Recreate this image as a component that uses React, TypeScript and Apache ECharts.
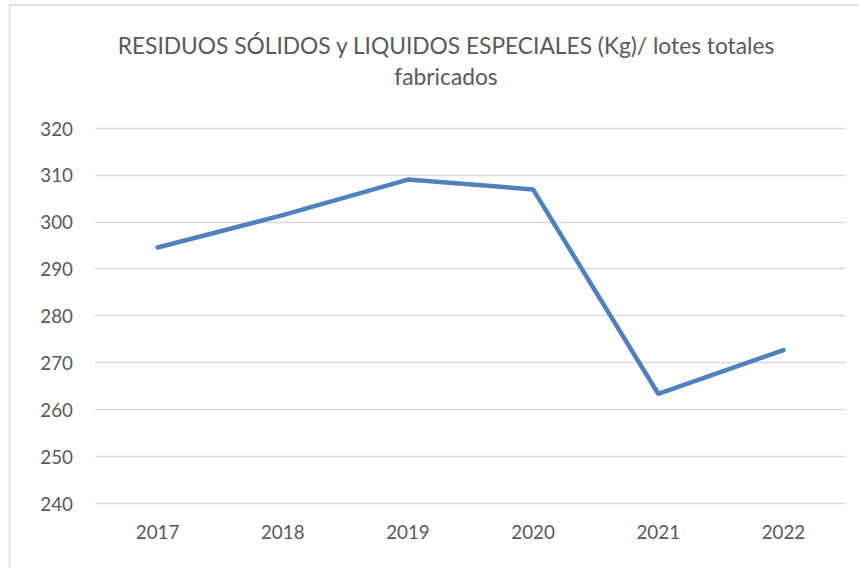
import React, { useEffect, useRef } from "react";
import * as echarts from "echarts";

const TITLE_LINES = ["RESIDUOS SÓLIDOS y LIQUIDOS ESPECIALES (Kg)/ lotes totales", "fabricados"];
const YEARS = ["2017", "2018", "2019", "2020", "2021", "2022"];
const VALUES = [294.5, 301.4, 309.0, 306.9, 263.3, 272.6];
const Y_MIN = 240;
const Y_MAX = 320;
const Y_STEP = 10;

const FONT = "Lato";

function measure(text: string, size: number): number {
  const ctx = document.createElement("canvas").getContext("2d");
  if (!ctx) return text.length * size * 0.5;
  ctx.font = `${size}px ${FONT}`;
  return ctx.measureText(text).width;
}

export default function App() {
  const ref = useRef<HTMLDivElement>(null);

  useEffect(() => {
    if (!ref.current) return;
    const chart = echarts.init(ref.current, undefined, { renderer: "svg" });

    // fit font sizes to the reference's text widths
    const titleSize = Math.min(26, (100 * 658) / measure(TITLE_LINES[0], 100));
    const tickSize = Math.min(21, (100 * 43.6) / measure("2017", 100));

    chart.setOption({
      animation: false,
      backgroundColor: "#ffffff",
      title: {
        text: TITLE_LINES.join("\n"),
        left: 441,
        top: 25,
        textAlign: "center",
        textStyle: {
          fontFamily: FONT,
          fontSize: titleSize,
          fontWeight: "normal",
          color: "#595959",
          lineHeight: 31,
        },
      },
      graphic: [
        {
          type: "rect",
          shape: { x: 9.5, y: 5, width: 1000, height: 1000 },
          style: { fill: "none", stroke: "#d9d9d9", lineWidth: 1.3 },
          silent: true,
          z: 0,
        },
      ],
      grid: { left: 95, right: 13, top: 128, bottom: 65, containLabel: false },
      xAxis: {
        type: "category",
        data: YEARS,
        boundaryGap: true,
        axisLine: { show: false },
        axisTick: { show: false },
        axisLabel: {
          margin: 19,
          fontFamily: FONT,
          fontSize: tickSize,
          color: "#595959",
        },
        splitLine: { show: false },
      },
      yAxis: {
        type: "value",
        min: Y_MIN,
        max: Y_MAX,
        interval: Y_STEP,
        axisLine: { show: false },
        axisTick: { show: false },
        axisLabel: {
          margin: 22,
          fontFamily: FONT,
          fontSize: tickSize,
          color: "#595959",
        },
        splitLine: { lineStyle: { color: "#d9d9d9", width: 1.3 } },
      },
      series: [
        {
          type: "line",
          data: VALUES,
          symbol: "none",
          lineStyle: { color: "#4f81bd", width: 4.5, cap: "round", join: "round" },
          itemStyle: { color: "#4f81bd" },
        },
      ],
    });

    return () => chart.dispose();
  }, []);

  return (
    <div
      ref={ref}
      style={{ position: "fixed", left: 0, top: 0, width: 859, height: 568, background: "#fff" }}
    />
  );
}
